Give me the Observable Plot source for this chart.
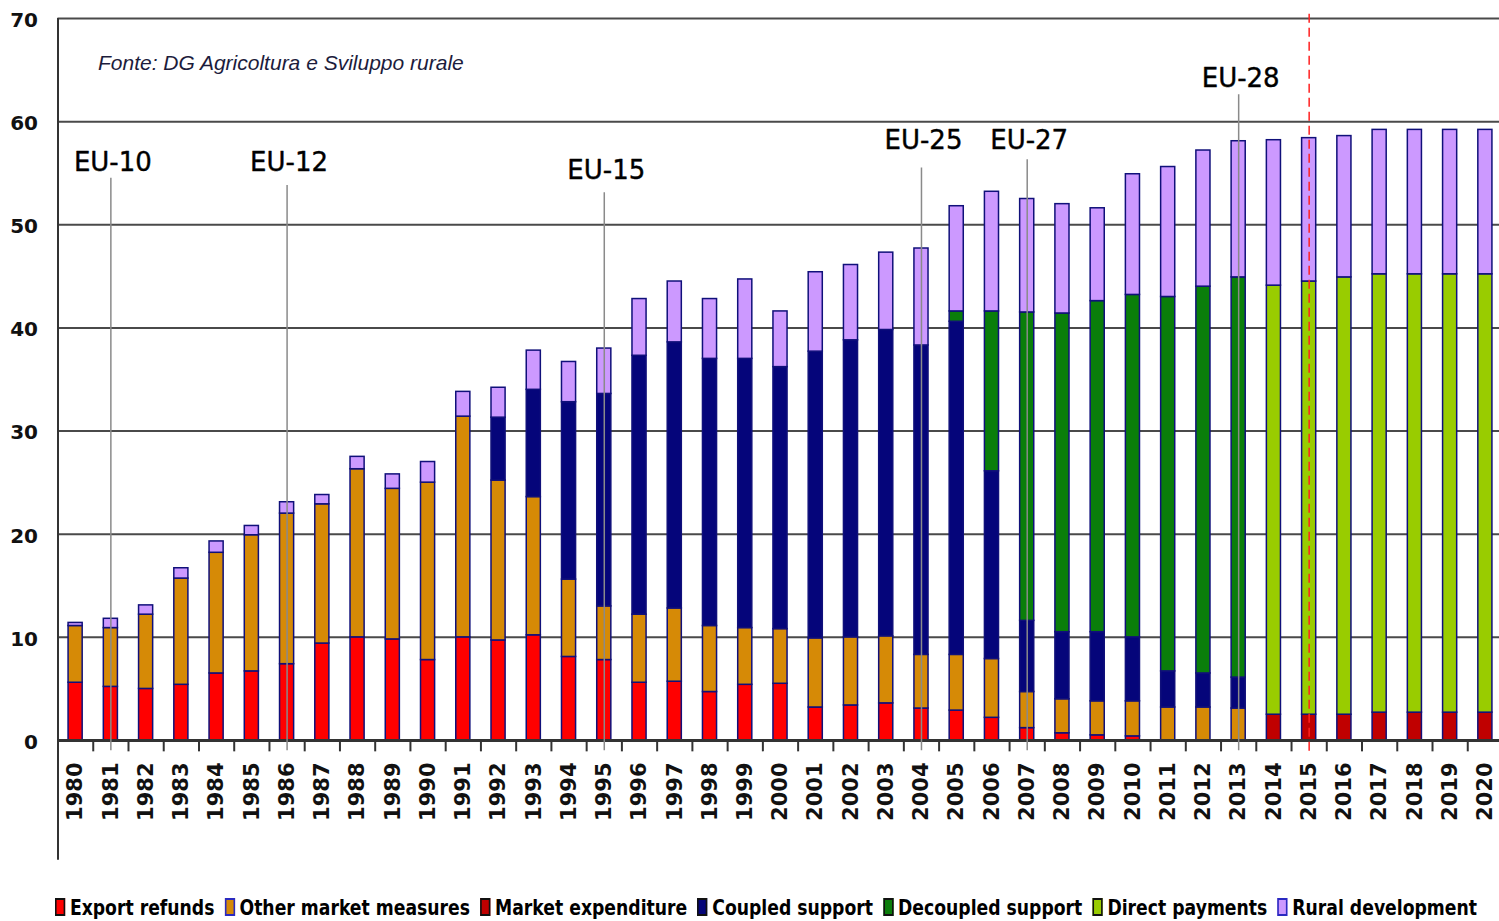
<!DOCTYPE html>
<html>
<head>
<meta charset="utf-8">
<script src="https://cdn.jsdelivr.net/npm/d3@7"></script>
<script src="https://cdn.jsdelivr.net/npm/@observablehq/plot@0.6"></script>
<style>
  html, body { margin: 0; padding: 0; background: #fff; overflow: hidden; }
  #wrap { position: relative; width: 1499px; height: 921px; }
  #legend { position: absolute; left: 55px; top: 893px; height: 28px; line-height: 28px;
            display: flex; align-items: center; white-space: nowrap;
            transform: scaleX(0.783); transform-origin: left center;
            font: bold 22px "DejaVu Sans", sans-serif; color: #000; }
  .item { display: flex; align-items: center; margin-right: 13px; }
  .sw { width: 9px; height: 14px; border: 2px solid #111; margin-right: 6px; }
</style>
</head>
<body>
<div id="wrap"><div id="chart"></div><div id="legend"></div></div>
<script>
const years = ["1980","1981","1982","1983","1984","1985","1986","1987","1988","1989",
  "1990","1991","1992","1993","1994","1995","1996","1997","1998","1999",
  "2000","2001","2002","2003","2004","2005","2006","2007","2008","2009",
  "2010","2011","2012","2013","2014","2015","2016","2017","2018","2019","2020"];

const categories = ["Export refunds","Other market measures","Market expenditure",
  "Coupled support","Decoupled support","Direct payments","Rural development"];
const colors = ["#ff0000","#d68a06","#c00000","#05057a","#0a7e0a","#99cc00","#cc99ff"];
const swatchBorders = ["#111","#2a2ac0","#111","#111","#111","#111","#2a2ac0"];

// billions EUR, 1980..2020
const exportRefunds = [5.6,5.2,5.0,5.4,6.5,6.7,7.4,9.4,10.0,9.8,
  7.8,10.0,9.7,10.2,8.1,7.8,5.6,5.7,4.7,5.4,
  5.5,3.2,3.4,3.6,3.1,2.9,2.2,1.2,0.7,0.5,
  0.4,0,0,0,0,0,0,0,0,0,0];
const otherMarket = [5.5,5.7,7.2,10.3,11.7,13.2,14.6,13.5,16.3,14.6,
  17.2,21.4,15.5,13.4,7.5,5.2,6.6,7.1,6.4,5.5,
  5.3,6.7,6.6,6.5,5.2,5.4,5.7,3.5,3.3,3.3,
  3.4,3.2,3.2,3.1,0,0,0,0,0,0,0];
const marketExpenditure = [0,0,0,0,0,0,0,0,0,0,
  0,0,0,0,0,0,0,0,0,0,
  0,0,0,0,0,0,0,0,0,0,
  0,0,0,0,2.5,2.5,2.5,2.7,2.7,2.7,2.7];
const coupled = [0,0,0,0,0,0,0,0,0,0,
  0,0,6.1,10.4,17.2,20.6,25.1,25.8,25.9,26.1,
  25.4,27.8,28.8,29.7,30.0,32.3,18.2,6.9,6.5,6.7,
  6.2,3.5,3.3,3.0,0,0,0,0,0,0,0];
const decoupled = [0,0,0,0,0,0,0,0,0,0,
  0,0,0,0,0,0,0,0,0,0,
  0,0,0,0,0,1.0,15.5,29.9,30.9,32.1,
  33.2,36.3,37.5,38.8,0,0,0,0,0,0,0];
const directPayments = [0,0,0,0,0,0,0,0,0,0,
  0,0,0,0,0,0,0,0,0,0,
  0,0,0,0,0,0,0,0,0,0,
  0,0,0,0,41.6,42.0,42.4,42.5,42.5,42.5,42.5];
const ruralDev = [0.3,0.9,0.9,1.0,1.1,0.9,1.1,0.9,1.2,1.4,
  2.0,2.4,2.9,3.8,3.9,4.4,5.5,5.9,5.8,7.7,
  5.4,7.7,7.3,7.5,9.4,10.2,11.6,11.0,10.6,9.0,
  11.7,12.6,13.2,13.2,14.1,13.9,13.7,14.0,14.0,14.0,14.0];

const seriesValues = [exportRefunds, otherMarket, marketExpenditure, coupled, decoupled, directPayments, ruralDev];

const yTicks = [0,10,20,30,40,50,60,70];

// enlargement annotations
const euLabels = ["EU-10","EU-12","EU-15","EU-25","EU-27","EU-28"];
const euYears  = ["1981","1986","1995","2004","2007","2013"];
const euTextY  = [56.0, 56.0, 55.2, 58.2, 58.2, 64.2];
const euLineTop = [54.5, 53.8, 53.1, 55.5, 56.3, 62.6];
const reformYear = "2015";
const sourceText = "Fonte: DG Agricoltura e Sviluppo rurale";

const rows = [];
categories.forEach((c, k) => seriesValues[k].forEach((v, i) => {
  if (v > 0) rows.push({year: years[i], cat: c, value: v});
}));
const eu = euLabels.map((l, i) => ({label: l, year: euYears[i], ty: euTextY[i], top: euLineTop[i]}));

const xRange = [57.5, 1502.5];
const step = (xRange[1] - xRange[0]) / years.length;

const chart = Plot.plot({
  width: 1499, height: 880,
  marginLeft: 57.5, marginRight: 0, marginTop: 18, marginBottom: 140,
  x: {type: "band", domain: years, range: xRange, paddingInner: 0.6, paddingOuter: 0.3, round: false, axis: null},
  y: {domain: [0, 70], axis: null},
  color: {domain: categories, range: colors},
  style: {fontFamily: "DejaVu Sans, sans-serif", background: "#fff", overflow: "visible"},
  marks: [
    Plot.ruleY(yTicks.filter(d => d > 0), {y: d => d, stroke: "#4a4a4a", strokeWidth: 2}),
    Plot.ruleX([years[0]], {x: d => d, dx: -step / 2, y1: 70, y2: -11.6, stroke: "#333", strokeWidth: 2}),
    Plot.barY(rows, {x: "year", y: "value", fill: "cat", stroke: "#10107a", strokeWidth: 1.5}),
    Plot.ruleY([0], {y: d => d, stroke: "#333", strokeWidth: 3}),
    Plot.ruleX(years, {x: d => d, dx: -step / 2, y1: 0, y2: -1.1, stroke: "#333", strokeWidth: 2}),
    Plot.ruleX(eu, {x: "year", y1: "top", y2: -1, stroke: "#8a8a8a", strokeWidth: 1.5}),
    Plot.ruleX([reformYear], {x: d => d, y1: 70.4, y2: -1.5, stroke: "#ff2020", strokeWidth: 1.5, strokeDasharray: "9,5"}),
    Plot.text(eu, {x: "year", y: "ty", text: "label", fontSize: 26, fill: "#000", stroke: "#000", strokeWidth: 0.4, dx: 2}),
    Plot.text(yTicks, {y: d => d, text: d => String(d), frameAnchor: "left", textAnchor: "end", dx: -20, dy: 2,
      fontSize: 20, fontWeight: "bold", fill: "#111"}),
    Plot.text(years, {x: d => d, y: 0, text: d => d, rotate: -90, textAnchor: "end", dy: 22,
      fontSize: 21, fontWeight: "bold", fill: "#111"}),
    Plot.text([sourceText], {text: d => d, frameAnchor: "top-left", lineAnchor: "middle", dx: 40, dy: 45, textAnchor: "start",
      fontFamily: "Liberation Sans, Arial, sans-serif", fontStyle: "italic", fontSize: 21, fill: "#1c1c3c"})
  ]
});
document.getElementById("chart").appendChild(chart);

const legend = document.getElementById("legend");
categories.forEach((c, i) => {
  const it = document.createElement("div");
  it.className = "item";
  const sw = document.createElement("div");
  sw.className = "sw";
  sw.style.background = colors[i];
  sw.style.borderColor = swatchBorders[i];
  const tx = document.createElement("span");
  tx.textContent = c;
  it.appendChild(sw); it.appendChild(tx);
  legend.appendChild(it);
});
</script>
</body>
</html>
